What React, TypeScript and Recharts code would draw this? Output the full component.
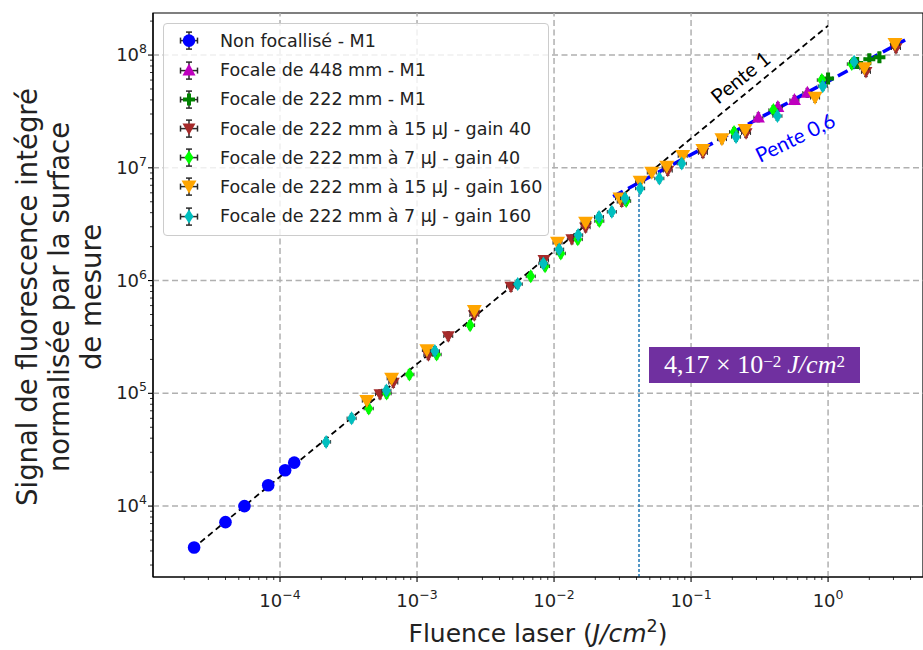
import React from "react";
import {
  ScatterChart,
  Scatter,
  XAxis,
  YAxis,
  ReferenceLine,
  ReferenceArea,
  ReferenceDot,
} from "recharts";

// values (fluence in J/cm², signal normalised)
const nonFocFluence = [2.36e-5, 4.0e-5, 5.5e-5, 8.2e-5, 1.09e-4, 1.27e-4];
const nonFocSignal = [4.29e3, 7.2e3, 1.0e4, 1.53e4, 2.08e4, 2.43e4];

const f448Fluence = [0.31, 0.43, 0.568, 0.706];
const f448Signal = [2.8e7, 3.47e7, 3.99e7, 4.62e7];

const f222Fluence = [1.0, 1.63, 2.0, 2.37];
const f222Signal = [6.21e7, 8.5e7, 9.17e7, 9.55e7];

const g40u15Fluence = [5.37e-4, 6.71e-4, 1.21e-3, 1.69e-3, 2.62e-3, 4.85e-3, 8.45e-3, 1.35e-2, 1.7e-2, 3.12e-2, 6.76e-2, 0.122, 0.252, 1.89, 3.13];
const g40u15Signal = [9.8e4, 1.24e5, 2.18e5, 3.21e5, 4.93e5, 8.8e5, 1.52e6, 2.32e6, 2.96e6, 4.99e6, 9.4e6, 1.35e7, 2.03e7, 7.06e7, 1.15e8];

const g40u7Fluence = [4.44e-4, 6.0e-4, 8.8e-4, 1.39e-3, 2.44e-3, 6.76e-3, 8.6e-3, 1.12e-2, 1.49e-2, 2.14e-2, 3.36e-2, 0.206, 0.399, 0.9, 1.49];
const g40u7Signal = [7.33e4, 9.95e4, 1.47e5, 2.21e5, 4.02e5, 1.09e6, 1.34e6, 1.74e6, 2.32e6, 3.37e6, 5.07e6, 2.08e7, 3.25e7, 6.0e7, 8.32e7];

const g160u15Fluence = [4.3e-4, 6.53e-4, 1.18e-3, 2.62e-3, 1.06e-2, 1.7e-2, 3.03e-2, 4.25e-2, 5.17e-2, 6.65e-2, 8.69e-2, 0.122, 0.168, 0.248, 0.804, 1.84, 3.08];
const g160u15Signal = [8.57e4, 1.35e5, 2.41e5, 5.38e5, 2.16e6, 3.25e6, 5.35e6, 7.52e6, 9.04e6, 1.02e7, 1.27e7, 1.44e7, 1.79e7, 2.16e7, 4.18e7, 7.62e7, 1.25e8];

const g160u7Fluence = [2.17e-4, 3.33e-4, 5.98e-4, 1.35e-3, 5.43e-3, 8.36e-3, 1.09e-2, 1.5e-2, 2.13e-2, 2.64e-2, 3.3e-2, 4.25e-2, 5.87e-2, 8.55e-2, 0.213, 0.427, 0.914, 1.55];
const g160u7Signal = [3.71e4, 6.0e4, 1.06e5, 2.37e5, 9.3e5, 1.42e6, 1.89e6, 2.53e6, 3.67e6, 4.07e6, 5.36e6, 6.56e6, 8.05e6, 1.09e7, 1.88e7, 2.88e7, 5.3e7, 8.7e7];

// fitted lines and threshold
const pente1Fluence = [2.3e-5, 1.0];
const pente1Signal = [4.19e3, 1.82e8];
const pente06Fluence = [0.027, 3.65];
const pente06Signal = [5.57e6, 1.36e8];
const seuilFluence = 0.0417;
const seuilSignalTop = 6.9e6;

// axes
const X_DOMAIN: [number, number] = [1.183e-5, 4.93];
const Y_DOMAIN: [number, number] = [2.35e3, 2.36e8];
const X_MAJOR = [1e-4, 1e-3, 1e-2, 1e-1, 1];
const X_LABELS = ["−4", "−3", "−2", "−1", "0"];
const Y_MAJOR = [1e4, 1e5, 1e6, 1e7, 1e8];
const Y_LABELS = ["4", "5", "6", "7", "8"];

const W = 923;
const H = 650;
const PLOT_LEFT = 153;
const PLOT_TOP = 13;
const PLOT_BOTTOM = 577;

type Kind = "circle" | "triUp" | "plus" | "triDown" | "thinDiamond" | "triDownBig";

const SERIES: { name: string; fluence: number[]; signal: number[]; color: string; kind: Kind }[] = [
  { name: "Non focallisé - M1", fluence: nonFocFluence, signal: nonFocSignal, color: "#0000ff", kind: "circle" },
  { name: "Focale de 448 mm - M1", fluence: f448Fluence, signal: f448Signal, color: "#bf00bf", kind: "triUp" },
  { name: "Focale de 222 mm - M1", fluence: f222Fluence, signal: f222Signal, color: "#008000", kind: "plus" },
  { name: "Focale de 222 mm à 15 µJ - gain 40", fluence: g40u15Fluence, signal: g40u15Signal, color: "#a52a2a", kind: "triDown" },
  { name: "Focale de 222 mm à 7 µJ - gain 40", fluence: g40u7Fluence, signal: g40u7Signal, color: "#00ff00", kind: "thinDiamond" },
  { name: "Focale de 222 mm à 15 µJ - gain 160", fluence: g160u15Fluence, signal: g160u15Signal, color: "#ffa500", kind: "triDownBig" },
  { name: "Focale de 222 mm à 7 µJ - gain 160", fluence: g160u7Fluence, signal: g160u7Signal, color: "#00bfbf", kind: "thinDiamond" },
];

function logTicks(lo: number, hi: number): number[] {
  const out: number[] = [];
  for (let e = Math.floor(Math.log10(lo)); e <= Math.ceil(Math.log10(hi)); e++) {
    for (let m = 1; m < 10; m++) {
      const v = m * Math.pow(10, e);
      if (v >= lo && v <= hi) out.push(v);
    }
  }
  return out;
}

const xTicks = logTicks(X_DOMAIN[0], X_DOMAIN[1]);
const yTicks = logTicks(Y_DOMAIN[0], Y_DOMAIN[1]);

function majorIndex(majors: number[], v: number) {
  const lg = Math.log10(v);
  return majors.findIndex((m) => Math.abs(Math.log10(m) - lg) < 1e-6);
}

function Marker({ kind, cx, cy, color }: { kind: Kind; cx: number; cy: number; color: string }) {
  switch (kind) {
    case "circle":
      return <circle cx={cx} cy={cy} r={6.3} fill={color} />;
    case "triUp":
      return <polygon points={`${cx},${cy - 7} ${cx + 6.5},${cy + 5} ${cx - 6.5},${cy + 5}`} fill={color} />;
    case "triDown":
      return <polygon points={`${cx - 6.5},${cy - 5} ${cx + 6.5},${cy - 5} ${cx},${cy + 6.5}`} fill={color} />;
    case "triDownBig":
      return <polygon points={`${cx - 7.5},${cy - 6} ${cx + 7.5},${cy - 6} ${cx},${cy + 7}`} fill={color} />;
    case "thinDiamond":
      return <polygon points={`${cx},${cy - 7} ${cx + 4.5},${cy} ${cx},${cy + 7} ${cx - 4.5},${cy}`} fill={color} />;
    case "plus":
      return <path d={`M${cx - 2},${cy - 6}h4v4h4v4h-4v4h-4v-4h-4v-4h4z`} fill={color} />;
  }
  return null;
}

function ErrCross({ cx, cy, a, c, w }: { cx: number; cy: number; a: number; c: number; w: number }) {
  return (
    <g stroke="#2a2a2a" strokeWidth={w}>
      <line x1={cx - a} x2={cx + a} y1={cy} y2={cy} />
      <line x1={cx} x2={cx} y1={cy - a} y2={cy + a} />
      <line x1={cx - a} x2={cx - a} y1={cy - c} y2={cy + c} />
      <line x1={cx + a} x2={cx + a} y1={cy - c} y2={cy + c} />
      <line x1={cx - c} x2={cx + c} y1={cy - a} y2={cy - a} />
      <line x1={cx - c} x2={cx + c} y1={cy + a} y2={cy + a} />
    </g>
  );
}

const XTick = (props: any) => {
  const { x, payload } = props;
  const idx = majorIndex(X_MAJOR, payload.value);
  const major = idx >= 0;
  return (
    <g>
      <line x1={x} x2={x} y1={PLOT_BOTTOM} y2={PLOT_BOTTOM + (major ? 5 : 3)} stroke="#000" strokeWidth={major ? 1.1 : 0.8} />
      {major && (
        <text x={x} y={PLOT_BOTTOM + 30} textAnchor="middle" fontFamily="DejaVu Sans" fontSize={18} fill="#222">
          10
          <tspan dy={-8} fontSize={12.5}>
            {X_LABELS[idx]}
          </tspan>
        </text>
      )}
    </g>
  );
};

const YTick = (props: any) => {
  const { y, payload } = props;
  const idx = majorIndex(Y_MAJOR, payload.value);
  const major = idx >= 0;
  return (
    <g>
      <line x1={PLOT_LEFT} x2={PLOT_LEFT - (major ? 5 : 3)} y1={y} y2={y} stroke="#000" strokeWidth={major ? 1.1 : 0.8} />
      {major && (
        <text x={PLOT_LEFT - 6} y={y + 6} textAnchor="end" fontFamily="DejaVu Sans" fontSize={18} fill="#222">
          10
          <tspan dy={-8} fontSize={12.5}>
            {Y_LABELS[idx]}
          </tspan>
        </text>
      )}
    </g>
  );
};

const XLabel = (props: any) => {
  const vb = props.viewBox;
  return (
    <text x={vb.x + vb.width / 2} y={vb.y + 65} textAnchor="middle" fontFamily="DejaVu Sans" fontSize={25} fill="#222">
      Fluence laser (<tspan fontStyle="italic">J/cm</tspan>
      <tspan dy={-10} fontSize={17.5}>2</tspan>
      <tspan dy={10}>)</tspan>
    </text>
  );
};

const Y_TITLE = ["Signal de fluorescence intégré", "normalisée par la surface", "de mesure"];

const YLabel = (props: any) => {
  const vb = props.viewBox;
  const cy = vb.y + vb.height / 2 + 2;
  return (
    <g>
      {Y_TITLE.map((line, i) => {
        const cx = 27 + i * 32;
        return (
          <text
            key={line}
            x={cx}
            y={cy}
            transform={`rotate(-90, ${cx}, ${cy})`}
            textAnchor="middle"
            dominantBaseline="central"
            fontFamily="DejaVu Sans"
            fontSize={27.5}
            fill="#222"
          >
            {line}
          </text>
        );
      })}
    </g>
  );
};

const penteLabel = (text: string, angle: number, color: string) => (props: any) => {
  const vb = props.viewBox;
  const cx = vb.x + (vb.width || 0) / 2;
  const cy = vb.y + (vb.height || 0) / 2;
  return (
    <text
      x={cx}
      y={cy}
      transform={`rotate(${angle}, ${cx}, ${cy})`}
      textAnchor="middle"
      dominantBaseline="central"
      fontFamily="Lato"
      fontSize={20.5}
      fill={color}
    >
      {text}
    </text>
  );
};

export default function App() {
  return (
    <div style={{ position: "absolute", left: 0, top: 0, width: W, height: H, background: "#fff", overflow: "hidden" }}>
      <ScatterChart width={W} height={H} margin={{ top: PLOT_TOP, right: 0, bottom: 0, left: 0 }}>
        <XAxis
          type="number"
          dataKey="x"
          scale="log"
          domain={X_DOMAIN}
          allowDataOverflow
          ticks={xTicks}
          interval={0}
          tick={(p: any) => <XTick {...p} />}
          tickLine={false}
          axisLine={{ stroke: "#000", strokeWidth: 1.2 }}
          height={H - PLOT_BOTTOM}
          label={(p: any) => <XLabel {...p} />}
        />
        <YAxis
          type="number"
          dataKey="y"
          scale="log"
          domain={Y_DOMAIN}
          allowDataOverflow
          ticks={yTicks}
          interval={0}
          tick={(p: any) => <YTick {...p} />}
          tickLine={false}
          axisLine={{ stroke: "#000", strokeWidth: 1.2 }}
          width={PLOT_LEFT}
          label={(p: any) => <YLabel {...p} />}
        />
        {X_MAJOR.map((v) => (
          <ReferenceLine key={`gx${v}`} x={v} stroke="#b0b0b0" strokeWidth={1.5} strokeDasharray="6 3.5" />
        ))}
        {Y_MAJOR.map((v) => (
          <ReferenceLine key={`gy${v}`} y={v} stroke="#b0b0b0" strokeWidth={1.5} strokeDasharray="6 3.5" />
        ))}
        <ReferenceArea
          x1={X_DOMAIN[0]}
          x2={X_DOMAIN[1]}
          y1={Y_DOMAIN[0]}
          y2={Y_DOMAIN[1]}
          fill="none"
          stroke="#000"
          strokeWidth={1.2}
          ifOverflow="visible"
        />
        {SERIES.map((s) => (
          <Scatter
            key={s.name}
            name={s.name}
            data={s.fluence.map((x, i) => ({ x, y: s.signal[i] }))}
            isAnimationActive={false}
            shape={(p: any) => (
              <g>
                <ErrCross cx={p.cx} cy={p.cy} a={4.5} c={1.8} w={1} />
                <Marker kind={s.kind} cx={p.cx} cy={p.cy} color={s.color} />
              </g>
            )}
          />
        ))}
        <ReferenceLine
          segment={[
            { x: pente1Fluence[0], y: pente1Signal[0] },
            { x: pente1Fluence[1], y: pente1Signal[1] },
          ]}
          stroke="#000"
          strokeWidth={1.8}
          strokeDasharray="6 4"
          ifOverflow="visible"
        />
        <ReferenceLine
          segment={[
            { x: pente06Fluence[0], y: pente06Signal[0] },
            { x: pente06Fluence[1], y: pente06Signal[1] },
          ]}
          stroke="#0000ff"
          strokeWidth={3.5}
          strokeDasharray="11 6"
          ifOverflow="visible"
        />
        <ReferenceLine
          segment={[
            { x: seuilFluence, y: Y_DOMAIN[0] },
            { x: seuilFluence, y: seuilSignalTop },
          ]}
          stroke="#1f77b4"
          strokeWidth={1.5}
          strokeDasharray="3 2"
          ifOverflow="visible"
        />
        <ReferenceDot x={0.228} y={6.38e7} r={0} fill="none" stroke="none" ifOverflow="visible" label={penteLabel("Pente 1", -39, "#000")} />
        <ReferenceDot x={0.574} y={1.87e7} r={0} fill="none" stroke="none" ifOverflow="visible" label={penteLabel("Pente 0,6", -26, "#0000ff")} />
      </ScatterChart>

      {/* legend */}
      <div
        style={{
          position: "absolute",
          left: 163,
          top: 23,
          width: 386,
          height: 213,
          boxSizing: "border-box",
          border: "1px solid #cccccc",
          borderRadius: 4,
          background: "rgba(255,255,255,0.8)",
        }}
      >
        {SERIES.map((s, i) => (
          <div key={s.name} style={{ position: "absolute", left: 0, top: 2.4 + i * 29.2, height: 29.2, width: 386, display: "flex", alignItems: "center" }}>
            <svg width={40} height={29} style={{ position: "absolute", left: 5, top: 0 }}>
              <ErrCross cx={20} cy={14.6} a={8.5} c={3} w={1.5} />
              <Marker kind={s.kind} cx={20} cy={14.6} color={s.color} />
            </svg>
            <span style={{ position: "absolute", left: 56, fontFamily: "DejaVu Sans", fontSize: 17.5, color: "#222", whiteSpace: "nowrap" }}>
              {s.name}
            </span>
          </div>
        ))}
      </div>

      {/* threshold annotation */}
      <div
        style={{
          position: "absolute",
          left: 649,
          top: 347,
          width: 211,
          height: 36,
          background: "#7030a0",
          color: "#fff",
          fontFamily: "Liberation Serif",
          fontSize: 26,
          display: "flex",
          alignItems: "center",
          justifyContent: "center",
          whiteSpace: "nowrap",
        }}
      >
        4,17 × 10<sup style={{ fontSize: 17, position: "relative", top: -3 }}>−2</sup>
        <span style={{ fontStyle: "italic", marginLeft: 6 }}>J/cm</span>
        <sup style={{ fontSize: 17, position: "relative", top: -3 }}>2</sup>
      </div>
    </div>
  );
}
